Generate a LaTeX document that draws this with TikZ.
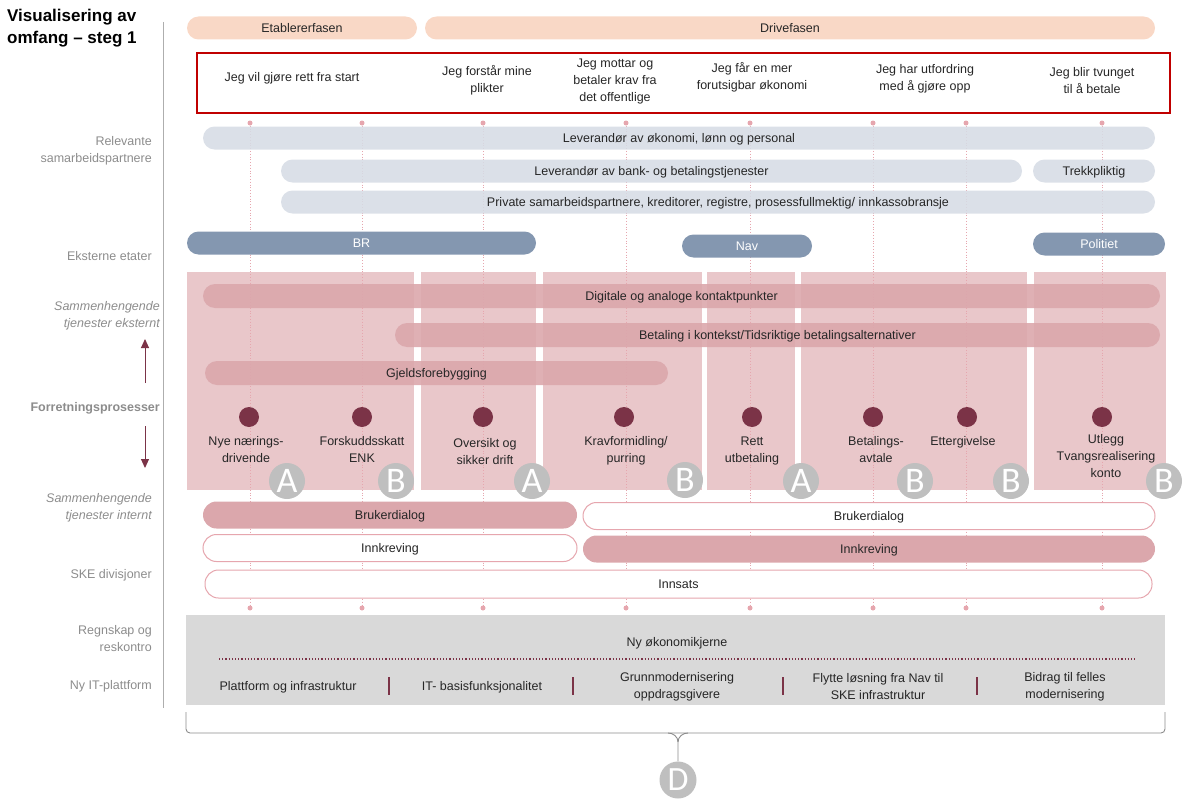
\documentclass[tikz,border=0pt]{standalone}
\usepackage{fontspec}
\setmainfont{Liberation Sans}
\newfontfamily\lettfont{Carlito}
\usetikzlibrary{arrows.meta,positioning}
\definecolor{PhaseClr}{HTML}{F9D8C6}
\definecolor{FrameClr}{HTML}{C00000}
\definecolor{PartnerClr}{HTML}{D6DCE5}
\definecolor{AgencyClr}{HTML}{8497B0}
\definecolor{PanelClr}{HTML}{E9C7CA}
\definecolor{BandClr}{HTML}{DBA7AC}
\definecolor{DotClr}{HTML}{7B3347}
\definecolor{MarkClr}{HTML}{BFBFBF}
\definecolor{BaseClr}{HTML}{D9D9D9}
\definecolor{LineClr}{HTML}{E6A6AE}
\definecolor{LabelClr}{HTML}{8C8C8C}
\definecolor{TextClr}{HTML}{262626}

\begin{document}
\begin{tikzpicture}[x=1pt,y=-1pt,
  every node/.style={font=\fontsize{12.5}{17}\selectfont,text=TextClr,inner sep=0pt},
  bar/.style={rounded corners=11.5pt,minimum height=23pt,text height=11pt,text depth=2pt},
  phase/.style={bar,fill=PhaseClr},
  partner/.style={bar,fill=PartnerClr,fill opacity=0.88,text opacity=1},
  agency/.style={bar,fill=AgencyClr,text=white},
  band/.style={bar,rounded corners=12pt,minimum height=24pt,fill=BandClr,fill opacity=0.9,text opacity=1},
  inband/.style={bar,rounded corners=13.5pt,minimum height=27pt,fill=BandClr},
  outband/.style={inband,fill=white,draw=LineClr,line width=1pt},
  sidelabel/.style={anchor=east,align=right,text=LabelClr},
  stmt/.style={align=center},
  plabel/.style={align=center},
  pdot/.style={circle,fill=DotClr,minimum size=20pt},
  letter/.style={circle,fill=MarkClr,minimum size=36pt,text=white,font=\lettfont\fontsize{36}{36}\selectfont},
  pindot/.style={circle,fill=LineClr,minimum size=5pt},
  vline/.style={LineClr,line width=0.8pt,dotted},
  itsep/.style={DotClr,line width=1.2pt}]
\useasboundingbox (0,0) rectangle (1192,800);

% left column
\node[anchor=north west,align=left,font=\bfseries\fontsize{17}{22}\selectfont,text=black] (title) at (7,9) {Visualisering av\\omfang -- steg 1};
\coordinate (axtop) at (163,22);
\coordinate (axbot) at (163,708);
\draw[LabelClr!70,line width=0.8pt] (axtop) -- (axbot);

\node[sidelabel] (l1) at (152,151) {Relevante\\samarbeidspartnere};
\node[sidelabel] (l2) at (152,256) {Eksterne etater};
\node[sidelabel,font=\itshape\fontsize{12.5}{17}\selectfont] (l3) at (160,316) {Sammenhengende\\tjenester eksternt};
\node[sidelabel,font=\bfseries\fontsize{12.5}{17}\selectfont] (l4) at (160,408) {Forretningsprosesser};
\node[sidelabel,font=\itshape\fontsize{12.5}{17}\selectfont] (l5) at (152,508) {Sammenhengende\\tjenester internt};
\node[sidelabel] (l6) at (152,575) {SKE divisjoner};
\node[sidelabel] (l7) at (152,639) {Regnskap og\\reskontro};
\node[sidelabel] (l8) at (152,686) {Ny IT-plattform};
\coordinate (up1) at (145,383);
\coordinate (up2) at (145,339);
\coordinate (dn1) at (145,426);
\coordinate (dn2) at (145,468);
\draw[DotClr,line width=1pt,-{Triangle[length=9pt,width=8pt]}] (up1) -- (up2);
\draw[DotClr,line width=1pt,-{Triangle[length=9pt,width=8pt]}] (dn1) -- (dn2);

% phases and customer journey
\node[phase,minimum width=230pt] (etabl) at (302,28) {Etablererfasen};
\node[phase,minimum width=730pt] (drive) at (790,28) {Drivefasen};
\node[draw=FrameClr,line width=1.5pt,minimum width=973pt,minimum height=60pt] (journey) at (683.5,83) {};
\node[stmt] (s1) at (292,78) {Jeg vil gjøre rett fra start};
\node[stmt] (s2) at (487,80) {Jeg forstår mine\\plikter};
\node[stmt] (s3) at (615,81) {Jeg mottar og\\betaler krav fra\\det offentlige};
\node[stmt] (s4) at (752,77) {Jeg får en mer\\forutsigbar økonomi};
\node[stmt] (s5) at (925,79) {Jeg har utfordring\\med å gjøre opp};
\node[stmt] (s6) at (1092,81) {Jeg blir tvunget\\til å betale};

% process panels
\fill[PanelClr] (187,272) rectangle (414,490);
\fill[PanelClr] (421,272) rectangle (536,490);
\fill[PanelClr] (543,272) rectangle (702,490);
\fill[PanelClr] (707,272) rectangle (795,490);
\fill[PanelClr] (801,272) rectangle (1027,490);
\fill[PanelClr] (1034,272) rectangle (1166,490);

% dotted guides
\foreach \x [count=\i] in {250,362,483,626,750,873,966,1102}{
  \node[pindot] (t\i) at (\x,123) {};
  \node[pindot] (b\i) at (\x,608) {};
  \draw[vline] (t\i) -- (b\i);
}

% partners and agencies
\node[partner,minimum width=952pt] (lev1) at (679,138) {Leverandør av økonomi, lønn og personal};
\node[partner,minimum width=741pt] (lev2) at (651.5,171) {Leverandør av bank- og betalingstjenester};
\node[partner,minimum width=122pt] (trekk) at (1094,171) {Trekkpliktig};
\node[partner,minimum width=874pt] (priv) at (718,202) {Private samarbeidspartnere, kreditorer, registre, prosessfullmektig/ innkassobransje};
\node[agency,minimum width=349pt] (br) at (361.5,243) {BR};
\node[agency,minimum width=130pt] (nav) at (747,246) {Nav};
\node[agency,minimum width=132pt] (pol) at (1099,244) {Politiet};

% external services
\node[band,minimum width=957pt] (dig) at (681.5,296) {Digitale og analoge kontaktpunkter};
\node[band,minimum width=765pt] (betal) at (777.5,335) {Betaling i kontekst/Tidsriktige betalingsalternativer};
\node[band,minimum width=463pt] (gjeld) at (436.5,373) {Gjeldsforebygging};

% internal services
\node[inband,minimum width=374pt] (bruk1) at (390,515) {Brukerdialog};
\node[outband,minimum width=572pt] (bruk2) at (869,516) {Brukerdialog};
\node[outband,minimum width=374pt] (innk1) at (390,548) {Innkreving};
\node[inband,minimum width=572pt] (innk2) at (869,549) {Innkreving};
\node[outband,minimum width=947pt,minimum height=28pt] (innsats) at (678.5,584) {Innsats};

% processes
\foreach \x [count=\i] in {249,362,483,624,752,873,967,1102}
  \node[pdot] (p\i) at (\x,417) {};
\node[plabel,below=9pt of p1,xshift=-3pt] (n1) {Nye nærings-\\drivende};
\node[plabel,below=9pt of p2] (n2) {Forskuddsskatt\\ENK};
\node[plabel,below=11pt of p3,xshift=2pt] (n3) {Oversikt og\\sikker drift};
\node[plabel,below=9pt of p4,xshift=2pt] (n4) {Kravformidling/\\purring};
\node[plabel,below=9pt of p5] (n5) {Rett\\utbetaling};
\node[plabel,below=9pt of p6,xshift=3pt] (n6) {Betalings-\\avtale};
\node[plabel,below=9pt of p7,xshift=-4pt] (n7) {Ettergivelse};
\node[plabel,below=7pt of p8,xshift=4pt] (n8) {Utlegg\\Tvangsrealisering\\konto};
\node[letter] (m1) at (287,481) {A};
\node[letter] (m2) at (396,481) {B};
\node[letter] (m3) at (532,481) {A};
\node[letter] (m4) at (685,480) {B};
\node[letter] (m5) at (801,481) {A};
\node[letter] (m6) at (915,481) {B};
\node[letter] (m7) at (1011,481) {B};
\node[letter] (m8) at (1164,481) {B};

% platform
\fill[BaseClr] (186,615) rectangle (1165,705);
\node (core) at (677,643) {Ny økonomikjerne};
\coordinate (dl) at (219,659);
\coordinate (dr) at (1136,659);
\draw[DotClr,line width=1.2pt,dotted] (dl) -- (dr);
\node (it1) at (288,687) {Plattform og infrastruktur};
\node (it2) at (482,687) {IT- basisfunksjonalitet};
\node[align=center] (it3) at (677,687) {Grunnmodernisering\\oppdragsgivere};
\node[align=center] (it4) at (878,687) {Flytte løsning fra Nav til\\SKE infrastruktur};
\node[align=center] (it5) at (1065,687) {Bidrag til felles\\modernisering};
\draw[itsep] (389,677) -- (389,695);
\draw[itsep] (573,677) -- (573,695);
\draw[itsep] (783,677) -- (783,695);
\draw[itsep] (977,677) -- (977,695);

% brace
\node[letter,minimum size=37pt,font=\lettfont\fontsize{34}{34}\selectfont] (d) at (678,780) {D};
\coordinate (bl) at (186,712);
\coordinate (br) at (1165,712);
\draw[LabelClr,line width=0.9pt,rounded corners=4pt] (bl) -- (186,733) -- (1165,733) -- (br);
\draw[LabelClr,line width=0.9pt] (668,733) to[out=0,in=90] (678,742) -- (d.north);
\draw[LabelClr,line width=0.9pt] (688,733) to[out=180,in=90] (678,742);
\end{tikzpicture}
\end{document}
